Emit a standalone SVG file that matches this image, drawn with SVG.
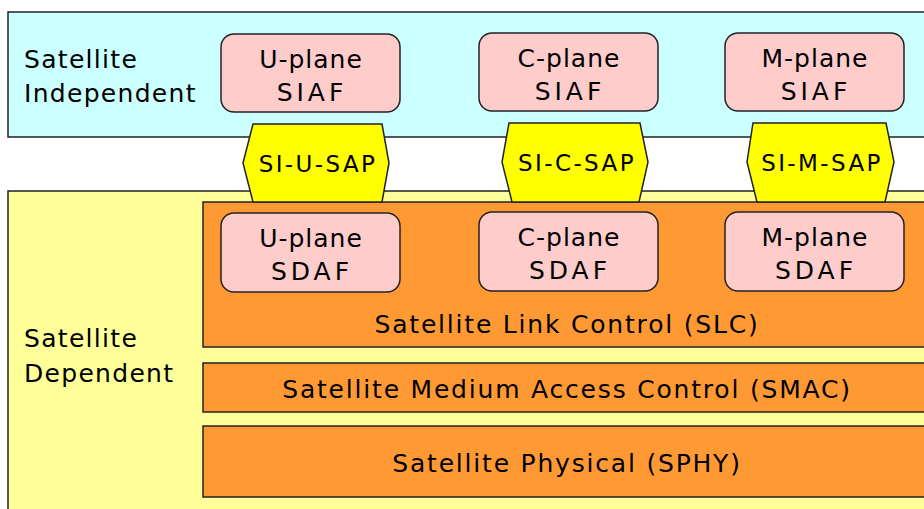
<svg xmlns="http://www.w3.org/2000/svg" width="924" height="509" viewBox="0 0 924 509">
<style>
text{font-family:"DejaVu Sans","Liberation Sans",sans-serif;fill:#000}
.lbl{font-size:25px;letter-spacing:1.3px}
.sap{font-size:23px;text-anchor:middle;letter-spacing:2.4px}
.nd{font-size:25px;text-anchor:middle;letter-spacing:1px}
.cap{letter-spacing:4px}
.ly{font-size:25px;text-anchor:middle;letter-spacing:1.8px}
.box{fill:#FFCCCC;stroke:#222;stroke-width:1.5}
.hex{fill:#FFFF00;stroke:#222;stroke-width:1.5}
.layer{fill:#FF9933;stroke:#222;stroke-width:1.5}
</style>
<rect width="924" height="509" fill="#fff"/>
<g id="independent">
<rect x="8" y="12" width="930" height="125" fill="#CCFFFF" stroke="#222" stroke-width="1.5"/>
<text class="lbl" x="24" y="68">Satellite</text>
<text class="lbl" x="24" y="102">Independent</text>
</g>
<g id="dependent">
<rect x="8" y="191" width="930" height="330" fill="#FFFF99" stroke="#222" stroke-width="1.5"/>
<text class="lbl" x="24" y="347">Satellite</text>
<text class="lbl" x="24" y="382">Dependent</text>
</g>
<g id="slc">
<rect class="layer" x="203" y="202" width="730" height="145"/>
<text class="ly" x="567" y="333">Satellite Link Control (SLC)</text>
</g>
<g id="smac">
<rect class="layer" x="203" y="363" width="730" height="49"/>
<text class="ly" x="567" y="398">Satellite Medium Access Control (SMAC)</text>
</g>
<g id="sphy">
<rect class="layer" x="203" y="426" width="730" height="71"/>
<text class="ly" x="567" y="472">Satellite Physical (SPHY)</text>
</g>
<g id="u-siaf"><rect class="box" x="221" y="34" width="179" height="78" rx="13"/><text class="nd" x="311" y="68">U-plane</text><text class="nd cap" x="312" y="101">SIAF</text></g>
<g id="c-siaf"><rect class="box" x="479" y="33" width="179" height="78" rx="13"/><text class="nd" x="569" y="67">C-plane</text><text class="nd cap" x="570" y="100">SIAF</text></g>
<g id="m-siaf"><rect class="box" x="725" y="33" width="179" height="78" rx="13"/><text class="nd" x="815" y="67">M-plane</text><text class="nd cap" x="816" y="100">SIAF</text></g>
<g id="u-sdaf"><rect class="box" x="221" y="213" width="179" height="79" rx="13"/><text class="nd" x="311" y="247">U-plane</text><text class="nd cap" x="312" y="280">SDAF</text></g>
<g id="c-sdaf"><rect class="box" x="479" y="212" width="179" height="79" rx="13"/><text class="nd" x="569" y="246">C-plane</text><text class="nd cap" x="570" y="279">SDAF</text></g>
<g id="m-sdaf"><rect class="box" x="725" y="212" width="179" height="79" rx="13"/><text class="nd" x="815" y="246">M-plane</text><text class="nd cap" x="816" y="279">SDAF</text></g>
<g id="si-u-sap"><polygon class="hex" points="253,124 382,124 389,163 382,202 253,202 243,163"/><text class="sap" x="318" y="172">SI-U-SAP</text></g>
<g id="si-c-sap"><polygon class="hex" points="509,123 640,123 648,162 639,202 512,202 502,162"/><text class="sap" x="577" y="171">SI-C-SAP</text></g>
<g id="si-m-sap"><polygon class="hex" points="753,123 886,123 894,162 885,202 757,202 747,162"/><text class="sap" x="822" y="171">SI-M-SAP</text></g>
<g id="connectors"></g>
</svg>
